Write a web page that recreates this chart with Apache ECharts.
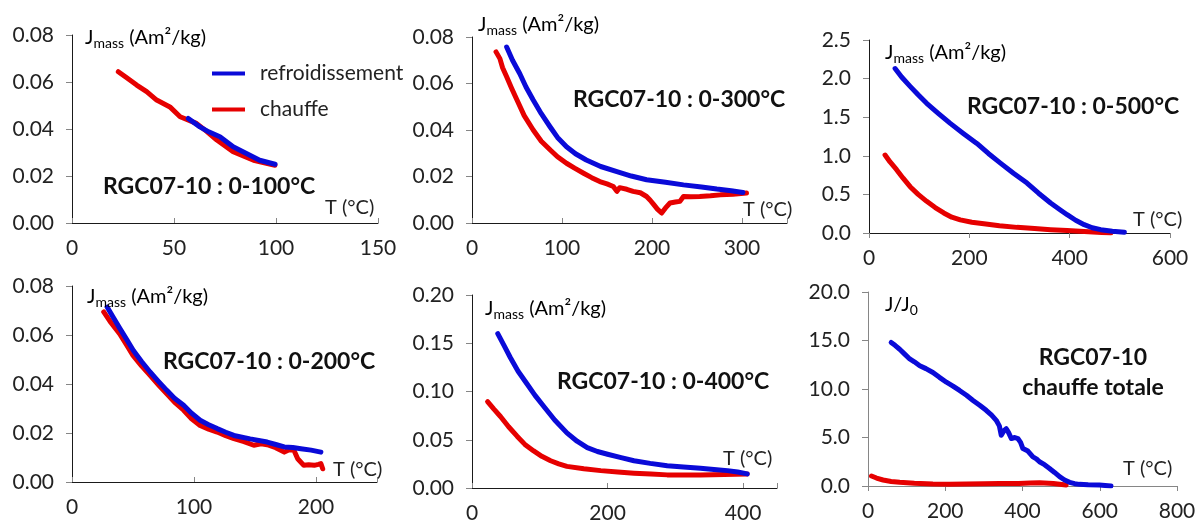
<!DOCTYPE html>
<html>
<head>
<meta charset="utf-8">
<script src="https://cdn.jsdelivr.net/npm/echarts@6/dist/echarts.min.js"></script>
<style>html,body{margin:0;padding:0;background:#fff}#c{width:1203px;height:524px}</style>
</head>
<body>
<div id="c"></div>
<script>
// ---- Data (T in °C, J values) ----
// Panel 1: 0-100°C
const p1RefT = [57, 62.7, 67, 72.5, 79, 85.5, 92, 99.5];
const p1RefJ = [0.0445, 0.0409, 0.0388, 0.0367, 0.0324, 0.0296, 0.0267, 0.025];
const p1ChT = [22.7, 27, 31.7, 36.6, 41.5, 48, 53, 61, 66, 71, 79, 89, 99.5];
const p1ChJ = [0.0644, 0.0617, 0.0587, 0.0559, 0.0523, 0.0494, 0.0452, 0.0424, 0.0390, 0.0353, 0.0303, 0.0267, 0.0246];
// Panel 2: 0-300°C
const p2RefT = [38.5, 45, 53, 60, 68, 77, 86.7, 95, 105, 115, 127, 143, 161, 177, 194, 215, 235, 255, 272, 288, 301];
const p2RefJ = [0.0757, 0.0700, 0.0643, 0.0585, 0.0529, 0.0470, 0.0414, 0.0368, 0.0328, 0.0298, 0.0271, 0.0243, 0.0221, 0.0202, 0.0186, 0.0175, 0.0164, 0.0155, 0.0146, 0.0139, 0.0131];
const p2ChT = [26.7, 31, 34, 38.5, 44, 50, 58, 68, 77, 87, 95, 105, 114, 124, 133, 142, 150, 157, 161, 164, 172, 179, 187, 194, 198, 202, 206, 210.7, 215, 220, 226, 231, 235, 243, 253, 265, 276, 290, 305];
const p2ChJ = [0.0736, 0.0707, 0.0668, 0.0629, 0.0580, 0.0529, 0.0462, 0.0400, 0.0352, 0.0314, 0.0285, 0.0257, 0.0236, 0.0214, 0.0195, 0.0178, 0.0168, 0.0157, 0.0136, 0.0152, 0.0145, 0.0136, 0.0130, 0.0114, 0.0098, 0.0079, 0.0060, 0.0043, 0.0065, 0.0086, 0.0090, 0.0093, 0.0114, 0.0113, 0.0114, 0.0117, 0.0121, 0.0124, 0.0129];
// Panel 3: 0-500°C
const p3RefT = [52, 65, 82, 98, 115, 138, 162, 188, 215, 238, 262, 288, 315, 338, 362, 380, 395, 412, 429, 445, 462, 485, 509];
const p3RefJ = [2.13, 2.02, 1.90, 1.79, 1.68, 1.55, 1.42, 1.29, 1.16, 1.03, 0.905, 0.775, 0.647, 0.515, 0.388, 0.305, 0.237, 0.165, 0.108, 0.068, 0.043, 0.022, 0.009];
const p3ChT = [32, 42, 55, 68, 82, 98, 115, 132, 149, 165, 182, 205, 229, 260, 295, 330, 362, 395, 429, 455, 482];
const p3ChJ = [1.01, 0.92, 0.82, 0.71, 0.60, 0.50, 0.41, 0.33, 0.26, 0.205, 0.17, 0.14, 0.12, 0.095, 0.073, 0.057, 0.043, 0.031, 0.02, 0.01, 0.0];
// Panel 4: 0-200°C
const p4RefT = [28.8, 34, 39.3, 45, 50.3, 57, 64, 71, 77.7, 84, 91.5, 98, 105, 112, 119, 126, 132.7, 146, 160, 167, 174, 181, 187.6, 196, 204];
const p4RefJ = [0.0714, 0.0670, 0.0626, 0.0580, 0.0537, 0.0492, 0.0449, 0.0410, 0.0374, 0.0342, 0.0313, 0.0281, 0.0252, 0.0234, 0.0218, 0.0203, 0.0190, 0.0176, 0.0163, 0.0153, 0.0143, 0.0141, 0.0136, 0.0130, 0.0122];
const p4ChT = [26, 32, 39, 45, 50, 57, 64, 71, 77.7, 84, 91.5, 98, 105, 112, 119, 126, 132.7, 141, 149, 155, 160, 167, 174, 178, 182, 185, 190, 194, 198.6, 202, 204, 205.5];
const p4ChJ = [0.0694, 0.0650, 0.0605, 0.0558, 0.0517, 0.0474, 0.0435, 0.0396, 0.0360, 0.0326, 0.0293, 0.0258, 0.0231, 0.0216, 0.0204, 0.0189, 0.0177, 0.0165, 0.0150, 0.0156, 0.0152, 0.0140, 0.0122, 0.0132, 0.0129, 0.0095, 0.0068, 0.0070, 0.0068, 0.0072, 0.0075, 0.0054];
// Panel 5: 0-400°C
const p5RefT = [38, 47, 56.7, 68, 81, 93, 106, 122, 140, 155, 170, 185, 200, 220, 239, 263, 288, 312, 337, 357, 377, 392, 406];
const p5RefJ = [0.16, 0.148, 0.135, 0.121, 0.108, 0.096, 0.0844, 0.0705, 0.0571, 0.0485, 0.0418, 0.0378, 0.035, 0.0314, 0.0282, 0.0255, 0.0231, 0.0217, 0.0204, 0.0192, 0.018, 0.0165, 0.0146];
const p5ChT = [23, 32, 42, 54, 66.5, 78, 91, 103, 116, 128, 140, 165, 190, 215, 239, 264, 288, 312, 337, 372, 406];
const p5ChJ = [0.0895, 0.0820, 0.0741, 0.0635, 0.0537, 0.0452, 0.0384, 0.0328, 0.0282, 0.0250, 0.0224, 0.0199, 0.018, 0.0165, 0.0153, 0.0144, 0.0136, 0.0135, 0.0136, 0.0140, 0.0146];
// Panel 6: chauffe totale (J/J0)
const p6RefT = [60, 70, 82, 95, 108, 120, 134, 150, 168, 185, 203, 220, 237, 255, 272, 290, 306, 320, 332, 340, 345, 352, 358, 364, 371, 380, 388, 395, 401, 414, 427, 436, 444, 457, 470, 483, 496, 509, 522, 535, 547, 570, 599, 629];
const p6RefJ = [14.8, 14.5, 14.1, 13.6, 13.1, 12.8, 12.4, 12.1, 11.7, 11.2, 10.7, 10.3, 9.85, 9.35, 8.82, 8.3, 7.8, 7.3, 6.77, 6.2, 5.23, 5.7, 5.9, 5.5, 4.89, 5.0, 4.89, 4.5, 3.86, 3.6, 3.0, 2.8, 2.5, 2.2, 1.81, 1.4, 0.96, 0.62, 0.38, 0.24, 0.17, 0.12, 0.1, 0.0];
const p6ChT = [9, 22, 39, 60, 82, 120, 168, 210, 254, 300, 340, 390, 420, 444, 480, 513];
const p6ChJ = [1.03, 0.82, 0.62, 0.47, 0.38, 0.28, 0.2, 0.19, 0.2, 0.22, 0.27, 0.25, 0.3, 0.34, 0.25, 0.1];

const titles = ['RGC07-10 : 0-100°C', 'RGC07-10 : 0-300°C', 'RGC07-10 : 0-500°C', 'RGC07-10 : 0-200°C', 'RGC07-10 : 0-400°C', 'RGC07-10\nchauffe totale'];
const seriesNames = ['refroidissement', 'chauffe'];
const xMax = [150, 350, 600, 250, 450, 800];
const xStep = [50, 100, 200, 100, 200, 200];
const yMax = [0.08, 0.08, 2.5, 0.08, 0.20, 20];
const yStep = [0.02, 0.02, 0.5, 0.02, 0.05, 5];
const yDec = [2, 2, 1, 2, 2, 1];

const refData = [[p1RefT, p1RefJ], [p2RefT, p2RefJ], [p3RefT, p3RefJ], [p4RefT, p4RefJ], [p5RefT, p5RefJ], [p6RefT, p6RefJ]];
const chData = [[p1ChT, p1ChJ], [p2ChT, p2ChJ], [p3ChT, p3ChJ], [p4ChT, p4ChJ], [p5ChT, p5ChJ], [p6ChT, p6ChJ]];

// ---- Layout ----
const grids = [
  {left: 72, top: 35, width: 306, height: 188},
  {left: 472, top: 37, width: 315, height: 186},
  {left: 869, top: 40, width: 301, height: 193},
  {left: 72, top: 286, width: 305, height: 196},
  {left: 472, top: 295, width: 305, height: 196},
  {left: 868, top: 292, width: 309, height: 194}
];
const xTickInside = [true, true, false, true, true, false];
const FONT = 'Lato';
const BLUE = '#0a0ad8', RED = '#e60000';

const xAxes = [], yAxes = [], series = [];
for (let i = 0; i < 6; i++) {
  const axisCol = i === 5 ? '#868686' : '#1a1a1a';
  xAxes.push({
    type: 'value', gridIndex: i, min: 0, max: xMax[i], interval: xStep[i],
    splitLine: {show: false},
    axisLine: {lineStyle: {color: axisCol, width: 1}},
    axisTick: {inside: xTickInside[i], length: 5, lineStyle: {color: '#868686'}},
    axisLabel: {
      fontFamily: FONT, fontSize: 21, color: '#222', margin: 15,
      formatter: (v) => (v % xStep[i] === 0 ? String(v) : '')
    }
  });
  yAxes.push({
    type: 'value', gridIndex: i, min: 0, max: yMax[i], interval: yStep[i],
    splitLine: {show: false},
    axisLine: {show: true, lineStyle: {color: axisCol, width: 1}},
    axisTick: {show: true, inside: false, length: 6, lineStyle: {color: '#868686'}},
    axisLabel: {fontFamily: FONT, fontSize: 21, color: '#222', margin: 18,
      formatter: (v) => v.toFixed(yDec[i])}
  });
  const mk = (d) => d[0].map((t, k) => [t, d[1][k]]);
  series.push({
    name: seriesNames[1], type: 'line', xAxisIndex: i, yAxisIndex: i,
    data: mk(chData[i]), showSymbol: false, symbol: 'none', smooth: false,
    lineStyle: {color: RED, width: 5, cap: 'round', join: 'round'}, itemStyle: {color: RED},
    z: 2, animation: false
  });
  series.push({
    name: seriesNames[0], type: 'line', xAxisIndex: i, yAxisIndex: i,
    data: mk(refData[i]), showSymbol: false, symbol: 'none', smooth: false,
    lineStyle: {color: BLUE, width: 5, cap: 'round', join: 'round'}, itemStyle: {color: BLUE},
    z: 3, animation: false
  });
}

// ---- Text (titles, axis names) ----
const titlePos = [[103, 187], [573, 100], [967, 107], [163, 362], [557, 382]];
const jmassPos = [[85, 38], [478, 25], [885, 53], [87, 297], [485, 309]];
const tPos = [[325, 208], [743, 210], [1133, 220], [333, 470], [723, 459], [1123, 469]];
const graphics = [];
titlePos.forEach((p, i) => graphics.push({
  type: 'text', x: p[0], y: p[1], z: 10,
  style: {text: titles[i], font: 'bold 23px ' + FONT, fill: '#111', verticalAlign: 'middle'}
}));
graphics.push({
  type: 'text', x: 1093, y: 373, z: 10,
  style: {text: titles[5], font: 'bold 23px ' + FONT, fill: '#111', align: 'center', verticalAlign: 'middle', lineHeight: 30}
});
const rich = {
  a: {fontFamily: FONT, fontSize: 20, color: '#222', lineHeight: 24},
  b: {fontFamily: FONT, fontSize: 14, color: '#222', lineHeight: 12, verticalAlign: 'bottom'}
};
jmassPos.forEach((p) => graphics.push({
  type: 'text', x: p[0], y: p[1], z: 10,
  style: {text: '{a|J}{b|mass}{a| (Am²/kg)}', rich: rich, verticalAlign: 'middle'}
}));
graphics.push({
  type: 'text', x: 885, y: 305, z: 10,
  style: {text: '{a|J/J}{b|0}', rich: rich, verticalAlign: 'middle'}
});
tPos.forEach((p) => graphics.push({
  type: 'text', x: p[0], y: p[1], z: 10,
  style: {text: 'T (°C)', font: '20px ' + FONT, fill: '#222', verticalAlign: 'middle'}
}));

const chart = echarts.init(document.getElementById('c'), null, {renderer: 'canvas'});
chart.setOption({
  animation: false,
  backgroundColor: '#fff',
  grid: grids,
  xAxis: xAxes,
  yAxis: yAxes,
  series: series,
  legend: {
    data: seriesNames, left: 207, top: 58, orient: 'vertical', itemGap: 15,
    itemWidth: 33, itemHeight: 4, icon: 'rect',
    textStyle: {fontFamily: FONT, fontSize: 21, color: '#222', padding: [0, 0, 0, 10]}
  },
  graphic: graphics
});
</script>
</body>
</html>
